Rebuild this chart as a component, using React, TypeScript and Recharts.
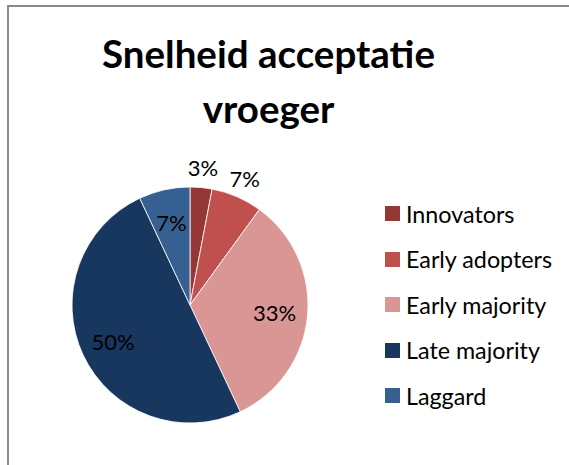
import { Cell, Legend, Pie, PieChart } from "recharts";

const categories = ["Innovators", "Early adopters", "Early majority", "Late majority", "Laggard"];
const shares = [3, 7, 33, 50, 7];
const colors = ["#953735", "#C0504D", "#D99694", "#17375E", "#376092"];
const titleLines = ["Snelheid acceptatie", "vroeger"];

const FONT = "Lato, 'Noto Sans', sans-serif";
const RAD = Math.PI / 180;

const chartData = categories.map((name, index) => ({ name, value: shares[index], fill: colors[index] }));

function renderLabel(props: any) {
  const { cx, cy, midAngle, outerRadius, value } = props;
  // small slices on the top right go outside, the rest sit inside
  const outside = value < 5 || (value < 10 && midAngle < 90 && midAngle > 0);
  const r = outside ? outerRadius + 20 : outerRadius * 0.72;
  const x = cx + r * Math.cos(-midAngle * RAD);
  const y = cy + r * Math.sin(-midAngle * RAD);
  return (
    <text x={x} y={y} textAnchor="middle" dominantBaseline="central" fill="#000" fontSize={22} fontFamily={FONT}>
      {`${value}%`}
    </text>
  );
}

function LegendList() {
  return (
    <div style={{ fontFamily: FONT, fontSize: 23.3, color: "#000" }}>
      {chartData.map((entry) => (
        <div key={entry.name} style={{ display: "flex", alignItems: "center", height: 45.5 }}>
          <span style={{ display: "inline-block", width: 15, height: 15, background: entry.fill, marginRight: 6 }} />
          <span>{entry.name}</span>
        </div>
      ))}
    </div>
  );
}

export default function App() {
  return (
    <div
      style={{
        position: "absolute",
        left: 7,
        top: 5,
        width: 580,
        height: 480,
        border: "2px solid #8a8a8a",
        background: "#fff",
        boxSizing: "border-box",
      }}
    >
      <div
        style={{
          position: "absolute",
          left: 0,
          top: 18.6,
          width: 519,
          textAlign: "center",
          fontFamily: FONT,
          fontWeight: 700,
          fontSize: 38.5,
          lineHeight: "55px",
          color: "#000",
        }}
      >
        {titleLines.map((line) => (
          <div key={line}>{line}</div>
        ))}
      </div>
      <div style={{ position: "absolute", left: -2, top: -2 }}>
        <PieChart width={576} height={476} margin={{ top: 0, right: 0, bottom: 0, left: 0 }}>
          <Pie
            data={chartData}
            dataKey="value"
            nameKey="name"
            cx={183}
            cy={300}
            outerRadius={118}
            startAngle={90}
            endAngle={-270}
            stroke="#fff"
            strokeWidth={0.8}
            label={renderLabel}
            labelLine={false}
            isAnimationActive={false}
          >
            {chartData.map((entry) => (
              <Cell key={entry.name} fill={entry.fill} />
            ))}
          </Pie>
          <Legend
            layout="vertical"
            align="right"
            verticalAlign="top"
            wrapperStyle={{ left: 378, top: 186, width: 190 }}
            content={() => <LegendList />}
          />
        </PieChart>
      </div>
    </div>
  );
}
